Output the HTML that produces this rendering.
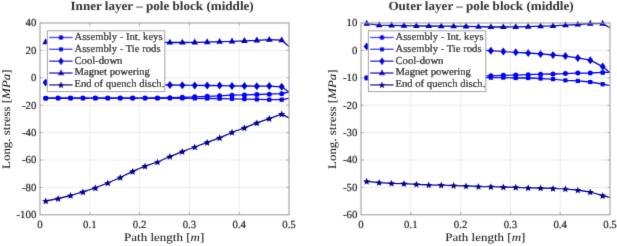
<!DOCTYPE html>
<html><head><meta charset="utf-8"><style>
html,body{margin:0;padding:0;background:#fff;width:617px;height:246px;overflow:hidden}
svg{display:block;font-family:"Liberation Serif", serif;will-change:transform;text-rendering:geometricPrecision}
</style></head><body>
<svg width="617" height="246" viewBox="0 0 617 246">
<defs><filter id="bl" x="0" y="0" width="617" height="246" filterUnits="userSpaceOnUse"><feConvolveMatrix order="3" kernelMatrix="0.01 0.08 0.01 0.08 0.64 0.08 0.01 0.08 0.01" edgeMode="duplicate"/></filter></defs>
<rect width="617" height="246" fill="#fff"/>
<g filter="url(#bl)">
<line x1="89.8" y1="23.0" x2="89.8" y2="214.8" stroke="#e6e6e6" stroke-width="0.8"/>
<line x1="139.6" y1="23.0" x2="139.6" y2="214.8" stroke="#e6e6e6" stroke-width="0.8"/>
<line x1="189.4" y1="23.0" x2="189.4" y2="214.8" stroke="#e6e6e6" stroke-width="0.8"/>
<line x1="239.2" y1="23.0" x2="239.2" y2="214.8" stroke="#e6e6e6" stroke-width="0.8"/>
<line x1="40.0" y1="50.4" x2="289.0" y2="50.4" stroke="#e6e6e6" stroke-width="0.8"/>
<line x1="40.0" y1="77.8" x2="289.0" y2="77.8" stroke="#e6e6e6" stroke-width="0.8"/>
<line x1="40.0" y1="105.2" x2="289.0" y2="105.2" stroke="#e6e6e6" stroke-width="0.8"/>
<line x1="40.0" y1="132.6" x2="289.0" y2="132.6" stroke="#e6e6e6" stroke-width="0.8"/>
<line x1="40.0" y1="160" x2="289.0" y2="160" stroke="#e6e6e6" stroke-width="0.8"/>
<line x1="40.0" y1="187.4" x2="289.0" y2="187.4" stroke="#e6e6e6" stroke-width="0.8"/>
<line x1="410.8" y1="23.0" x2="410.8" y2="214.8" stroke="#e6e6e6" stroke-width="0.8"/>
<line x1="460.6" y1="23.0" x2="460.6" y2="214.8" stroke="#e6e6e6" stroke-width="0.8"/>
<line x1="510.4" y1="23.0" x2="510.4" y2="214.8" stroke="#e6e6e6" stroke-width="0.8"/>
<line x1="560.2" y1="23.0" x2="560.2" y2="214.8" stroke="#e6e6e6" stroke-width="0.8"/>
<line x1="361.0" y1="50.4" x2="610.0" y2="50.4" stroke="#e6e6e6" stroke-width="0.8"/>
<line x1="361.0" y1="77.8" x2="610.0" y2="77.8" stroke="#e6e6e6" stroke-width="0.8"/>
<line x1="361.0" y1="105.2" x2="610.0" y2="105.2" stroke="#e6e6e6" stroke-width="0.8"/>
<line x1="361.0" y1="132.6" x2="610.0" y2="132.6" stroke="#e6e6e6" stroke-width="0.8"/>
<line x1="361.0" y1="160" x2="610.0" y2="160" stroke="#e6e6e6" stroke-width="0.8"/>
<line x1="361.0" y1="187.4" x2="610.0" y2="187.4" stroke="#e6e6e6" stroke-width="0.8"/>
<polyline points="45.7,98.2 58.12,98.1 70.54,98.1 82.96,98.1 95.38,98.1 107.8,98.1 120.22,98.1 132.64,98.1 145.06,98.1 157.48,98 169.9,97.7 182.32,97.3 194.74,96.8 207.16,96.3 219.58,95.8 232,95.2 244.42,94.9 256.84,94.5 269.26,94.2 281.68,93.7 289,92" fill="none" stroke="#0000ff" stroke-width="1.3" stroke-linejoin="round"/>
<circle cx="45.7" cy="98.2" r="2.5" fill="#0000ff"/>
<circle cx="58.12" cy="98.1" r="2.5" fill="#0000ff"/>
<circle cx="70.54" cy="98.1" r="2.5" fill="#0000ff"/>
<circle cx="82.96" cy="98.1" r="2.5" fill="#0000ff"/>
<circle cx="95.38" cy="98.1" r="2.5" fill="#0000ff"/>
<circle cx="107.8" cy="98.1" r="2.5" fill="#0000ff"/>
<circle cx="120.22" cy="98.1" r="2.5" fill="#0000ff"/>
<circle cx="132.64" cy="98.1" r="2.5" fill="#0000ff"/>
<circle cx="145.06" cy="98.1" r="2.5" fill="#0000ff"/>
<circle cx="157.48" cy="98" r="2.5" fill="#0000ff"/>
<circle cx="169.9" cy="97.7" r="2.5" fill="#0000ff"/>
<circle cx="182.32" cy="97.3" r="2.5" fill="#0000ff"/>
<circle cx="194.74" cy="96.8" r="2.5" fill="#0000ff"/>
<circle cx="207.16" cy="96.3" r="2.5" fill="#0000ff"/>
<circle cx="219.58" cy="95.8" r="2.5" fill="#0000ff"/>
<circle cx="232" cy="95.2" r="2.5" fill="#0000ff"/>
<circle cx="244.42" cy="94.9" r="2.5" fill="#0000ff"/>
<circle cx="256.84" cy="94.5" r="2.5" fill="#0000ff"/>
<circle cx="269.26" cy="94.2" r="2.5" fill="#0000ff"/>
<circle cx="281.68" cy="93.7" r="2.5" fill="#0000ff"/>
<polyline points="45.7,98.2 58.12,98.2 70.54,98.2 82.96,98.2 95.38,98.2 107.8,98.2 120.22,98.2 132.64,98.2 145.06,98.2 157.48,98.2 169.9,98.2 182.32,98.3 194.74,98.4 207.16,98.5 219.58,98.6 232,98.8 244.42,99.1 256.84,99.4 269.26,99.7 281.68,99.7 289,98.3" fill="none" stroke="#0000f2" stroke-width="1.3" stroke-linejoin="round"/>
<rect x="43.6" y="96.1" width="4.2" height="4.2" fill="#0000f2"/>
<rect x="56.02" y="96.1" width="4.2" height="4.2" fill="#0000f2"/>
<rect x="68.44" y="96.1" width="4.2" height="4.2" fill="#0000f2"/>
<rect x="80.86" y="96.1" width="4.2" height="4.2" fill="#0000f2"/>
<rect x="93.28" y="96.1" width="4.2" height="4.2" fill="#0000f2"/>
<rect x="105.7" y="96.1" width="4.2" height="4.2" fill="#0000f2"/>
<rect x="118.12" y="96.1" width="4.2" height="4.2" fill="#0000f2"/>
<rect x="130.54" y="96.1" width="4.2" height="4.2" fill="#0000f2"/>
<rect x="142.96" y="96.1" width="4.2" height="4.2" fill="#0000f2"/>
<rect x="155.38" y="96.1" width="4.2" height="4.2" fill="#0000f2"/>
<rect x="167.8" y="96.1" width="4.2" height="4.2" fill="#0000f2"/>
<rect x="180.22" y="96.2" width="4.2" height="4.2" fill="#0000f2"/>
<rect x="192.64" y="96.3" width="4.2" height="4.2" fill="#0000f2"/>
<rect x="205.06" y="96.4" width="4.2" height="4.2" fill="#0000f2"/>
<rect x="217.48" y="96.5" width="4.2" height="4.2" fill="#0000f2"/>
<rect x="229.9" y="96.7" width="4.2" height="4.2" fill="#0000f2"/>
<rect x="242.32" y="97" width="4.2" height="4.2" fill="#0000f2"/>
<rect x="254.74" y="97.3" width="4.2" height="4.2" fill="#0000f2"/>
<rect x="267.16" y="97.6" width="4.2" height="4.2" fill="#0000f2"/>
<rect x="279.58" y="97.6" width="4.2" height="4.2" fill="#0000f2"/>
<polyline points="45.7,82.6 58.12,83 70.54,83.3 82.96,83.6 95.38,83.9 107.8,84.1 120.22,84.3 132.64,84.5 145.06,84.7 157.48,84.9 169.9,85 182.32,85.2 194.74,85.4 207.16,85.5 219.58,85.6 232,85.9 244.42,86 256.84,86.2 269.26,86.1 281.68,86.8 289,92" fill="none" stroke="#0000dd" stroke-width="1.3" stroke-linejoin="round"/>
<path d="M45.7 78.6L48.7 82.6L45.7 86.6L42.7 82.6Z" fill="#0000dd"/>
<path d="M58.12 79L61.12 83L58.12 87L55.12 83Z" fill="#0000dd"/>
<path d="M70.54 79.3L73.54 83.3L70.54 87.3L67.54 83.3Z" fill="#0000dd"/>
<path d="M82.96 79.6L85.96 83.6L82.96 87.6L79.96 83.6Z" fill="#0000dd"/>
<path d="M95.38 79.9L98.38 83.9L95.38 87.9L92.38 83.9Z" fill="#0000dd"/>
<path d="M107.8 80.1L110.8 84.1L107.8 88.1L104.8 84.1Z" fill="#0000dd"/>
<path d="M120.22 80.3L123.22 84.3L120.22 88.3L117.22 84.3Z" fill="#0000dd"/>
<path d="M132.64 80.5L135.64 84.5L132.64 88.5L129.64 84.5Z" fill="#0000dd"/>
<path d="M145.06 80.7L148.06 84.7L145.06 88.7L142.06 84.7Z" fill="#0000dd"/>
<path d="M157.48 80.9L160.48 84.9L157.48 88.9L154.48 84.9Z" fill="#0000dd"/>
<path d="M169.9 81L172.9 85L169.9 89L166.9 85Z" fill="#0000dd"/>
<path d="M182.32 81.2L185.32 85.2L182.32 89.2L179.32 85.2Z" fill="#0000dd"/>
<path d="M194.74 81.4L197.74 85.4L194.74 89.4L191.74 85.4Z" fill="#0000dd"/>
<path d="M207.16 81.5L210.16 85.5L207.16 89.5L204.16 85.5Z" fill="#0000dd"/>
<path d="M219.58 81.6L222.58 85.6L219.58 89.6L216.58 85.6Z" fill="#0000dd"/>
<path d="M232 81.9L235 85.9L232 89.9L229 85.9Z" fill="#0000dd"/>
<path d="M244.42 82L247.42 86L244.42 90L241.42 86Z" fill="#0000dd"/>
<path d="M256.84 82.2L259.84 86.2L256.84 90.2L253.84 86.2Z" fill="#0000dd"/>
<path d="M269.26 82.1L272.26 86.1L269.26 90.1L266.26 86.1Z" fill="#0000dd"/>
<path d="M281.68 82.8L284.68 86.8L281.68 90.8L278.68 86.8Z" fill="#0000dd"/>
<polyline points="45.7,42.1 58.12,42.2 70.54,42.2 82.96,42.3 95.38,42.3 107.8,42.4 120.22,42.4 132.64,42.5 145.06,42.5 157.48,42.5 169.9,42.5 182.32,42.5 194.74,42.3 207.16,42.1 219.58,41.7 232,41.4 244.42,40.8 256.84,40.4 269.26,39.7 281.68,40.2 289,46.4" fill="none" stroke="#0000bb" stroke-width="1.3" stroke-linejoin="round"/>
<path d="M45.7 38.3L49 44.2L42.4 44.2Z" fill="#0000bb"/>
<path d="M58.12 38.4L61.42 44.3L54.82 44.3Z" fill="#0000bb"/>
<path d="M70.54 38.4L73.84 44.3L67.24 44.3Z" fill="#0000bb"/>
<path d="M82.96 38.5L86.26 44.4L79.66 44.4Z" fill="#0000bb"/>
<path d="M95.38 38.5L98.68 44.4L92.08 44.4Z" fill="#0000bb"/>
<path d="M107.8 38.6L111.1 44.5L104.5 44.5Z" fill="#0000bb"/>
<path d="M120.22 38.6L123.52 44.5L116.92 44.5Z" fill="#0000bb"/>
<path d="M132.64 38.7L135.94 44.6L129.34 44.6Z" fill="#0000bb"/>
<path d="M145.06 38.7L148.36 44.6L141.76 44.6Z" fill="#0000bb"/>
<path d="M157.48 38.7L160.78 44.6L154.18 44.6Z" fill="#0000bb"/>
<path d="M169.9 38.7L173.2 44.6L166.6 44.6Z" fill="#0000bb"/>
<path d="M182.32 38.7L185.62 44.6L179.02 44.6Z" fill="#0000bb"/>
<path d="M194.74 38.5L198.04 44.4L191.44 44.4Z" fill="#0000bb"/>
<path d="M207.16 38.3L210.46 44.2L203.86 44.2Z" fill="#0000bb"/>
<path d="M219.58 37.9L222.88 43.8L216.28 43.8Z" fill="#0000bb"/>
<path d="M232 37.6L235.3 43.5L228.7 43.5Z" fill="#0000bb"/>
<path d="M244.42 37L247.72 42.9L241.12 42.9Z" fill="#0000bb"/>
<path d="M256.84 36.6L260.14 42.5L253.54 42.5Z" fill="#0000bb"/>
<path d="M269.26 35.9L272.56 41.8L265.96 41.8Z" fill="#0000bb"/>
<path d="M281.68 36.4L284.98 42.3L278.38 42.3Z" fill="#0000bb"/>
<polyline points="45.7,201 58.12,198.6 70.54,195.5 82.96,191.9 95.38,187.9 107.8,183 120.22,177.5 132.64,171.4 145.06,166.2 157.48,162 169.9,156.6 182.32,151.6 194.74,147 207.16,142.4 219.58,137.8 232,132.3 244.42,127.8 256.84,122.9 269.26,118.6 281.68,114.1 289,117.8" fill="none" stroke="#00008f" stroke-width="1.3" stroke-linejoin="round"/>
<path d="M45.7 197.5L46.7 199.92L49.31 200.13L47.32 201.83L47.93 204.37L45.7 203L43.47 204.37L44.08 201.83L42.09 200.13L44.7 199.92Z" fill="#00008f"/>
<path d="M58.12 195.1L59.12 197.52L61.73 197.73L59.74 199.43L60.35 201.97L58.12 200.6L55.89 201.97L56.5 199.43L54.51 197.73L57.12 197.52Z" fill="#00008f"/>
<path d="M70.54 192L71.54 194.42L74.15 194.63L72.16 196.33L72.77 198.87L70.54 197.5L68.31 198.87L68.92 196.33L66.93 194.63L69.54 194.42Z" fill="#00008f"/>
<path d="M82.96 188.4L83.96 190.82L86.57 191.03L84.58 192.73L85.19 195.27L82.96 193.9L80.73 195.27L81.34 192.73L79.35 191.03L81.96 190.82Z" fill="#00008f"/>
<path d="M95.38 184.4L96.38 186.82L98.99 187.03L97 188.73L97.61 191.27L95.38 189.9L93.15 191.27L93.76 188.73L91.77 187.03L94.38 186.82Z" fill="#00008f"/>
<path d="M107.8 179.5L108.8 181.92L111.41 182.13L109.42 183.83L110.03 186.37L107.8 185L105.57 186.37L106.18 183.83L104.19 182.13L106.8 181.92Z" fill="#00008f"/>
<path d="M120.22 174L121.22 176.42L123.83 176.63L121.84 178.33L122.45 180.87L120.22 179.5L117.99 180.87L118.6 178.33L116.61 176.63L119.22 176.42Z" fill="#00008f"/>
<path d="M132.64 167.9L133.64 170.32L136.25 170.53L134.26 172.23L134.87 174.77L132.64 173.4L130.41 174.77L131.02 172.23L129.03 170.53L131.64 170.32Z" fill="#00008f"/>
<path d="M145.06 162.7L146.06 165.12L148.67 165.33L146.68 167.03L147.29 169.57L145.06 168.2L142.83 169.57L143.44 167.03L141.45 165.33L144.06 165.12Z" fill="#00008f"/>
<path d="M157.48 158.5L158.48 160.92L161.09 161.13L159.1 162.83L159.71 165.37L157.48 164L155.25 165.37L155.86 162.83L153.87 161.13L156.48 160.92Z" fill="#00008f"/>
<path d="M169.9 153.1L170.9 155.52L173.51 155.73L171.52 157.43L172.13 159.97L169.9 158.6L167.67 159.97L168.28 157.43L166.29 155.73L168.9 155.52Z" fill="#00008f"/>
<path d="M182.32 148.1L183.32 150.52L185.93 150.73L183.94 152.43L184.55 154.97L182.32 153.6L180.09 154.97L180.7 152.43L178.71 150.73L181.32 150.52Z" fill="#00008f"/>
<path d="M194.74 143.5L195.74 145.92L198.35 146.13L196.36 147.83L196.97 150.37L194.74 149L192.51 150.37L193.12 147.83L191.13 146.13L193.74 145.92Z" fill="#00008f"/>
<path d="M207.16 138.9L208.16 141.32L210.77 141.53L208.78 143.23L209.39 145.77L207.16 144.4L204.93 145.77L205.54 143.23L203.55 141.53L206.16 141.32Z" fill="#00008f"/>
<path d="M219.58 134.3L220.58 136.72L223.19 136.93L221.2 138.63L221.81 141.17L219.58 139.8L217.35 141.17L217.96 138.63L215.97 136.93L218.58 136.72Z" fill="#00008f"/>
<path d="M232 128.8L233 131.22L235.61 131.43L233.62 133.13L234.23 135.67L232 134.3L229.77 135.67L230.38 133.13L228.39 131.43L231 131.22Z" fill="#00008f"/>
<path d="M244.42 124.3L245.42 126.72L248.03 126.93L246.04 128.63L246.65 131.17L244.42 129.8L242.19 131.17L242.8 128.63L240.81 126.93L243.42 126.72Z" fill="#00008f"/>
<path d="M256.84 119.4L257.84 121.82L260.45 122.03L258.46 123.73L259.07 126.27L256.84 124.9L254.61 126.27L255.22 123.73L253.23 122.03L255.84 121.82Z" fill="#00008f"/>
<path d="M269.26 115.1L270.26 117.52L272.87 117.73L270.88 119.43L271.49 121.97L269.26 120.6L267.03 121.97L267.64 119.43L265.65 117.73L268.26 117.52Z" fill="#00008f"/>
<path d="M281.68 110.6L282.68 113.02L285.29 113.23L283.3 114.93L283.91 117.47L281.68 116.1L279.45 117.47L280.06 114.93L278.07 113.23L280.68 113.02Z" fill="#00008f"/>
<polyline points="366.7,77.8 379.12,77.6 391.54,77.4 403.96,77.2 416.38,77 428.8,76.8 441.22,76.6 453.64,76.4 466.06,76.2 478.48,76 490.9,75.8 503.32,75.3 515.74,75.1 528.16,74.7 540.58,74.2 553,74 565.42,73.6 577.84,73.1 590.26,73 602.68,72.4 610,72.3" fill="none" stroke="#0000ff" stroke-width="1.3" stroke-linejoin="round"/>
<circle cx="366.7" cy="77.8" r="2.5" fill="#0000ff"/>
<circle cx="379.12" cy="77.6" r="2.5" fill="#0000ff"/>
<circle cx="391.54" cy="77.4" r="2.5" fill="#0000ff"/>
<circle cx="403.96" cy="77.2" r="2.5" fill="#0000ff"/>
<circle cx="416.38" cy="77" r="2.5" fill="#0000ff"/>
<circle cx="428.8" cy="76.8" r="2.5" fill="#0000ff"/>
<circle cx="441.22" cy="76.6" r="2.5" fill="#0000ff"/>
<circle cx="453.64" cy="76.4" r="2.5" fill="#0000ff"/>
<circle cx="466.06" cy="76.2" r="2.5" fill="#0000ff"/>
<circle cx="478.48" cy="76" r="2.5" fill="#0000ff"/>
<circle cx="490.9" cy="75.8" r="2.5" fill="#0000ff"/>
<circle cx="503.32" cy="75.3" r="2.5" fill="#0000ff"/>
<circle cx="515.74" cy="75.1" r="2.5" fill="#0000ff"/>
<circle cx="528.16" cy="74.7" r="2.5" fill="#0000ff"/>
<circle cx="540.58" cy="74.2" r="2.5" fill="#0000ff"/>
<circle cx="553" cy="74" r="2.5" fill="#0000ff"/>
<circle cx="565.42" cy="73.6" r="2.5" fill="#0000ff"/>
<circle cx="577.84" cy="73.1" r="2.5" fill="#0000ff"/>
<circle cx="590.26" cy="73" r="2.5" fill="#0000ff"/>
<circle cx="602.68" cy="72.4" r="2.5" fill="#0000ff"/>
<polyline points="366.7,78.2 379.12,77.9 391.54,77.8 403.96,77.8 416.38,77.8 428.8,77.7 441.22,77.7 453.64,77.7 466.06,77.6 478.48,77.6 490.9,77.6 503.32,77.6 515.74,78 528.16,78 540.58,78.5 553,79.1 565.42,80.3 577.84,80.9 590.26,82 602.68,84.2 610,85.6" fill="none" stroke="#0000f2" stroke-width="1.3" stroke-linejoin="round"/>
<rect x="364.6" y="76.1" width="4.2" height="4.2" fill="#0000f2"/>
<rect x="377.02" y="75.8" width="4.2" height="4.2" fill="#0000f2"/>
<rect x="389.44" y="75.7" width="4.2" height="4.2" fill="#0000f2"/>
<rect x="401.86" y="75.7" width="4.2" height="4.2" fill="#0000f2"/>
<rect x="414.28" y="75.7" width="4.2" height="4.2" fill="#0000f2"/>
<rect x="426.7" y="75.6" width="4.2" height="4.2" fill="#0000f2"/>
<rect x="439.12" y="75.6" width="4.2" height="4.2" fill="#0000f2"/>
<rect x="451.54" y="75.6" width="4.2" height="4.2" fill="#0000f2"/>
<rect x="463.96" y="75.5" width="4.2" height="4.2" fill="#0000f2"/>
<rect x="476.38" y="75.5" width="4.2" height="4.2" fill="#0000f2"/>
<rect x="488.8" y="75.5" width="4.2" height="4.2" fill="#0000f2"/>
<rect x="501.22" y="75.5" width="4.2" height="4.2" fill="#0000f2"/>
<rect x="513.64" y="75.9" width="4.2" height="4.2" fill="#0000f2"/>
<rect x="526.06" y="75.9" width="4.2" height="4.2" fill="#0000f2"/>
<rect x="538.48" y="76.4" width="4.2" height="4.2" fill="#0000f2"/>
<rect x="550.9" y="77" width="4.2" height="4.2" fill="#0000f2"/>
<rect x="563.32" y="78.2" width="4.2" height="4.2" fill="#0000f2"/>
<rect x="575.74" y="78.8" width="4.2" height="4.2" fill="#0000f2"/>
<rect x="588.16" y="79.9" width="4.2" height="4.2" fill="#0000f2"/>
<rect x="600.58" y="82.1" width="4.2" height="4.2" fill="#0000f2"/>
<polyline points="366.7,46.6 379.12,47 391.54,47.4 403.96,47.8 416.38,48.2 428.8,48.6 441.22,49 453.64,49.4 466.06,49.8 478.48,50.2 490.9,50.7 503.32,51.6 515.74,52.3 528.16,53 540.58,53.9 553,55 565.42,56.1 577.84,57.9 590.26,60.2 602.68,66.6 610,72.8" fill="none" stroke="#0000dd" stroke-width="1.3" stroke-linejoin="round"/>
<path d="M366.7 42.6L369.7 46.6L366.7 50.6L363.7 46.6Z" fill="#0000dd"/>
<path d="M379.12 43L382.12 47L379.12 51L376.12 47Z" fill="#0000dd"/>
<path d="M391.54 43.4L394.54 47.4L391.54 51.4L388.54 47.4Z" fill="#0000dd"/>
<path d="M403.96 43.8L406.96 47.8L403.96 51.8L400.96 47.8Z" fill="#0000dd"/>
<path d="M416.38 44.2L419.38 48.2L416.38 52.2L413.38 48.2Z" fill="#0000dd"/>
<path d="M428.8 44.6L431.8 48.6L428.8 52.6L425.8 48.6Z" fill="#0000dd"/>
<path d="M441.22 45L444.22 49L441.22 53L438.22 49Z" fill="#0000dd"/>
<path d="M453.64 45.4L456.64 49.4L453.64 53.4L450.64 49.4Z" fill="#0000dd"/>
<path d="M466.06 45.8L469.06 49.8L466.06 53.8L463.06 49.8Z" fill="#0000dd"/>
<path d="M478.48 46.2L481.48 50.2L478.48 54.2L475.48 50.2Z" fill="#0000dd"/>
<path d="M490.9 46.7L493.9 50.7L490.9 54.7L487.9 50.7Z" fill="#0000dd"/>
<path d="M503.32 47.6L506.32 51.6L503.32 55.6L500.32 51.6Z" fill="#0000dd"/>
<path d="M515.74 48.3L518.74 52.3L515.74 56.3L512.74 52.3Z" fill="#0000dd"/>
<path d="M528.16 49L531.16 53L528.16 57L525.16 53Z" fill="#0000dd"/>
<path d="M540.58 49.9L543.58 53.9L540.58 57.9L537.58 53.9Z" fill="#0000dd"/>
<path d="M553 51L556 55L553 59L550 55Z" fill="#0000dd"/>
<path d="M565.42 52.1L568.42 56.1L565.42 60.1L562.42 56.1Z" fill="#0000dd"/>
<path d="M577.84 53.9L580.84 57.9L577.84 61.9L574.84 57.9Z" fill="#0000dd"/>
<path d="M590.26 56.2L593.26 60.2L590.26 64.2L587.26 60.2Z" fill="#0000dd"/>
<path d="M602.68 62.6L605.68 66.6L602.68 70.6L599.68 66.6Z" fill="#0000dd"/>
<polyline points="366.7,23.6 379.12,25.1 391.54,25.3 403.96,25.6 416.38,25.8 428.8,26 441.22,26.2 453.64,26.2 466.06,26.4 478.48,26.7 490.9,27 503.32,27 515.74,26.8 528.16,26.6 540.58,26.2 553,25.8 565.42,25.1 577.84,24.5 590.26,23.6 602.68,23.6 610,27.8" fill="none" stroke="#0000bb" stroke-width="1.3" stroke-linejoin="round"/>
<path d="M366.7 19.8L370 25.7L363.4 25.7Z" fill="#0000bb"/>
<path d="M379.12 21.3L382.42 27.2L375.82 27.2Z" fill="#0000bb"/>
<path d="M391.54 21.5L394.84 27.4L388.24 27.4Z" fill="#0000bb"/>
<path d="M403.96 21.8L407.26 27.7L400.66 27.7Z" fill="#0000bb"/>
<path d="M416.38 22L419.68 27.9L413.08 27.9Z" fill="#0000bb"/>
<path d="M428.8 22.2L432.1 28.1L425.5 28.1Z" fill="#0000bb"/>
<path d="M441.22 22.4L444.52 28.3L437.92 28.3Z" fill="#0000bb"/>
<path d="M453.64 22.4L456.94 28.3L450.34 28.3Z" fill="#0000bb"/>
<path d="M466.06 22.6L469.36 28.5L462.76 28.5Z" fill="#0000bb"/>
<path d="M478.48 22.9L481.78 28.8L475.18 28.8Z" fill="#0000bb"/>
<path d="M490.9 23.2L494.2 29.1L487.6 29.1Z" fill="#0000bb"/>
<path d="M503.32 23.2L506.62 29.1L500.02 29.1Z" fill="#0000bb"/>
<path d="M515.74 23L519.04 28.9L512.44 28.9Z" fill="#0000bb"/>
<path d="M528.16 22.8L531.46 28.7L524.86 28.7Z" fill="#0000bb"/>
<path d="M540.58 22.4L543.88 28.3L537.28 28.3Z" fill="#0000bb"/>
<path d="M553 22L556.3 27.9L549.7 27.9Z" fill="#0000bb"/>
<path d="M565.42 21.3L568.72 27.2L562.12 27.2Z" fill="#0000bb"/>
<path d="M577.84 20.7L581.14 26.6L574.54 26.6Z" fill="#0000bb"/>
<path d="M590.26 19.8L593.56 25.7L586.96 25.7Z" fill="#0000bb"/>
<path d="M602.68 19.8L605.98 25.7L599.38 25.7Z" fill="#0000bb"/>
<polyline points="366.7,181.3 379.12,182.6 391.54,183.3 403.96,183.7 416.38,184.3 428.8,185 441.22,185.2 453.64,185.6 466.06,186 478.48,186.5 490.9,186.7 503.32,187.1 515.74,187.3 528.16,187.8 540.58,188 553,188.4 565.42,188.8 577.84,190.1 590.26,192 602.68,195.7 610,197.4" fill="none" stroke="#00008f" stroke-width="1.3" stroke-linejoin="round"/>
<path d="M366.7 177.8L367.7 180.22L370.31 180.43L368.32 182.13L368.93 184.67L366.7 183.3L364.47 184.67L365.08 182.13L363.09 180.43L365.7 180.22Z" fill="#00008f"/>
<path d="M379.12 179.1L380.12 181.52L382.73 181.73L380.74 183.43L381.35 185.97L379.12 184.6L376.89 185.97L377.5 183.43L375.51 181.73L378.12 181.52Z" fill="#00008f"/>
<path d="M391.54 179.8L392.54 182.22L395.15 182.43L393.16 184.13L393.77 186.67L391.54 185.3L389.31 186.67L389.92 184.13L387.93 182.43L390.54 182.22Z" fill="#00008f"/>
<path d="M403.96 180.2L404.96 182.62L407.57 182.83L405.58 184.53L406.19 187.07L403.96 185.7L401.73 187.07L402.34 184.53L400.35 182.83L402.96 182.62Z" fill="#00008f"/>
<path d="M416.38 180.8L417.38 183.22L419.99 183.43L418 185.13L418.61 187.67L416.38 186.3L414.15 187.67L414.76 185.13L412.77 183.43L415.38 183.22Z" fill="#00008f"/>
<path d="M428.8 181.5L429.8 183.92L432.41 184.13L430.42 185.83L431.03 188.37L428.8 187L426.57 188.37L427.18 185.83L425.19 184.13L427.8 183.92Z" fill="#00008f"/>
<path d="M441.22 181.7L442.22 184.12L444.83 184.33L442.84 186.03L443.45 188.57L441.22 187.2L438.99 188.57L439.6 186.03L437.61 184.33L440.22 184.12Z" fill="#00008f"/>
<path d="M453.64 182.1L454.64 184.52L457.25 184.73L455.26 186.43L455.87 188.97L453.64 187.6L451.41 188.97L452.02 186.43L450.03 184.73L452.64 184.52Z" fill="#00008f"/>
<path d="M466.06 182.5L467.06 184.92L469.67 185.13L467.68 186.83L468.29 189.37L466.06 188L463.83 189.37L464.44 186.83L462.45 185.13L465.06 184.92Z" fill="#00008f"/>
<path d="M478.48 183L479.48 185.42L482.09 185.63L480.1 187.33L480.71 189.87L478.48 188.5L476.25 189.87L476.86 187.33L474.87 185.63L477.48 185.42Z" fill="#00008f"/>
<path d="M490.9 183.2L491.9 185.62L494.51 185.83L492.52 187.53L493.13 190.07L490.9 188.7L488.67 190.07L489.28 187.53L487.29 185.83L489.9 185.62Z" fill="#00008f"/>
<path d="M503.32 183.6L504.32 186.02L506.93 186.23L504.94 187.93L505.55 190.47L503.32 189.1L501.09 190.47L501.7 187.93L499.71 186.23L502.32 186.02Z" fill="#00008f"/>
<path d="M515.74 183.8L516.74 186.22L519.35 186.43L517.36 188.13L517.97 190.67L515.74 189.3L513.51 190.67L514.12 188.13L512.13 186.43L514.74 186.22Z" fill="#00008f"/>
<path d="M528.16 184.3L529.16 186.72L531.77 186.93L529.78 188.63L530.39 191.17L528.16 189.8L525.93 191.17L526.54 188.63L524.55 186.93L527.16 186.72Z" fill="#00008f"/>
<path d="M540.58 184.5L541.58 186.92L544.19 187.13L542.2 188.83L542.81 191.37L540.58 190L538.35 191.37L538.96 188.83L536.97 187.13L539.58 186.92Z" fill="#00008f"/>
<path d="M553 184.9L554 187.32L556.61 187.53L554.62 189.23L555.23 191.77L553 190.4L550.77 191.77L551.38 189.23L549.39 187.53L552 187.32Z" fill="#00008f"/>
<path d="M565.42 185.3L566.42 187.72L569.03 187.93L567.04 189.63L567.65 192.17L565.42 190.8L563.19 192.17L563.8 189.63L561.81 187.93L564.42 187.72Z" fill="#00008f"/>
<path d="M577.84 186.6L578.84 189.02L581.45 189.23L579.46 190.93L580.07 193.47L577.84 192.1L575.61 193.47L576.22 190.93L574.23 189.23L576.84 189.02Z" fill="#00008f"/>
<path d="M590.26 188.5L591.26 190.92L593.87 191.13L591.88 192.83L592.49 195.37L590.26 194L588.03 195.37L588.64 192.83L586.65 191.13L589.26 190.92Z" fill="#00008f"/>
<path d="M602.68 192.2L603.68 194.62L606.29 194.83L604.3 196.53L604.91 199.07L602.68 197.7L600.45 199.07L601.06 196.53L599.07 194.83L601.68 194.62Z" fill="#00008f"/>
<rect x="40.0" y="23.0" width="249" height="191.8" fill="none" stroke="#a0a0a0" stroke-width="1.1"/>
<line x1="89.8" y1="214.8" x2="89.8" y2="212.3" stroke="#a0a0a0" stroke-width="0.9"/>
<line x1="89.8" y1="23.0" x2="89.8" y2="25.5" stroke="#a0a0a0" stroke-width="0.9"/>
<line x1="139.6" y1="214.8" x2="139.6" y2="212.3" stroke="#a0a0a0" stroke-width="0.9"/>
<line x1="139.6" y1="23.0" x2="139.6" y2="25.5" stroke="#a0a0a0" stroke-width="0.9"/>
<line x1="189.4" y1="214.8" x2="189.4" y2="212.3" stroke="#a0a0a0" stroke-width="0.9"/>
<line x1="189.4" y1="23.0" x2="189.4" y2="25.5" stroke="#a0a0a0" stroke-width="0.9"/>
<line x1="239.2" y1="214.8" x2="239.2" y2="212.3" stroke="#a0a0a0" stroke-width="0.9"/>
<line x1="239.2" y1="23.0" x2="239.2" y2="25.5" stroke="#a0a0a0" stroke-width="0.9"/>
<line x1="40.0" y1="50.4" x2="42.5" y2="50.4" stroke="#a0a0a0" stroke-width="0.9"/>
<line x1="289.0" y1="50.4" x2="286.5" y2="50.4" stroke="#a0a0a0" stroke-width="0.9"/>
<line x1="40.0" y1="77.8" x2="42.5" y2="77.8" stroke="#a0a0a0" stroke-width="0.9"/>
<line x1="289.0" y1="77.8" x2="286.5" y2="77.8" stroke="#a0a0a0" stroke-width="0.9"/>
<line x1="40.0" y1="105.2" x2="42.5" y2="105.2" stroke="#a0a0a0" stroke-width="0.9"/>
<line x1="289.0" y1="105.2" x2="286.5" y2="105.2" stroke="#a0a0a0" stroke-width="0.9"/>
<line x1="40.0" y1="132.6" x2="42.5" y2="132.6" stroke="#a0a0a0" stroke-width="0.9"/>
<line x1="289.0" y1="132.6" x2="286.5" y2="132.6" stroke="#a0a0a0" stroke-width="0.9"/>
<line x1="40.0" y1="160" x2="42.5" y2="160" stroke="#a0a0a0" stroke-width="0.9"/>
<line x1="289.0" y1="160" x2="286.5" y2="160" stroke="#a0a0a0" stroke-width="0.9"/>
<line x1="40.0" y1="187.4" x2="42.5" y2="187.4" stroke="#a0a0a0" stroke-width="0.9"/>
<line x1="289.0" y1="187.4" x2="286.5" y2="187.4" stroke="#a0a0a0" stroke-width="0.9"/>
<rect x="361.0" y="23.0" width="249" height="191.8" fill="none" stroke="#a0a0a0" stroke-width="1.1"/>
<line x1="410.8" y1="214.8" x2="410.8" y2="212.3" stroke="#a0a0a0" stroke-width="0.9"/>
<line x1="410.8" y1="23.0" x2="410.8" y2="25.5" stroke="#a0a0a0" stroke-width="0.9"/>
<line x1="460.6" y1="214.8" x2="460.6" y2="212.3" stroke="#a0a0a0" stroke-width="0.9"/>
<line x1="460.6" y1="23.0" x2="460.6" y2="25.5" stroke="#a0a0a0" stroke-width="0.9"/>
<line x1="510.4" y1="214.8" x2="510.4" y2="212.3" stroke="#a0a0a0" stroke-width="0.9"/>
<line x1="510.4" y1="23.0" x2="510.4" y2="25.5" stroke="#a0a0a0" stroke-width="0.9"/>
<line x1="560.2" y1="214.8" x2="560.2" y2="212.3" stroke="#a0a0a0" stroke-width="0.9"/>
<line x1="560.2" y1="23.0" x2="560.2" y2="25.5" stroke="#a0a0a0" stroke-width="0.9"/>
<line x1="361.0" y1="50.4" x2="363.5" y2="50.4" stroke="#a0a0a0" stroke-width="0.9"/>
<line x1="610.0" y1="50.4" x2="607.5" y2="50.4" stroke="#a0a0a0" stroke-width="0.9"/>
<line x1="361.0" y1="77.8" x2="363.5" y2="77.8" stroke="#a0a0a0" stroke-width="0.9"/>
<line x1="610.0" y1="77.8" x2="607.5" y2="77.8" stroke="#a0a0a0" stroke-width="0.9"/>
<line x1="361.0" y1="105.2" x2="363.5" y2="105.2" stroke="#a0a0a0" stroke-width="0.9"/>
<line x1="610.0" y1="105.2" x2="607.5" y2="105.2" stroke="#a0a0a0" stroke-width="0.9"/>
<line x1="361.0" y1="132.6" x2="363.5" y2="132.6" stroke="#a0a0a0" stroke-width="0.9"/>
<line x1="610.0" y1="132.6" x2="607.5" y2="132.6" stroke="#a0a0a0" stroke-width="0.9"/>
<line x1="361.0" y1="160" x2="363.5" y2="160" stroke="#a0a0a0" stroke-width="0.9"/>
<line x1="610.0" y1="160" x2="607.5" y2="160" stroke="#a0a0a0" stroke-width="0.9"/>
<line x1="361.0" y1="187.4" x2="363.5" y2="187.4" stroke="#a0a0a0" stroke-width="0.9"/>
<line x1="610.0" y1="187.4" x2="607.5" y2="187.4" stroke="#a0a0a0" stroke-width="0.9"/>
<rect x="47.4" y="30.8" width="117.4" height="60.8" fill="#fff" stroke="#a0a0a0" stroke-width="1.0"/>
<line x1="49.2" y1="37.5" x2="72.6" y2="37.5" stroke="#0000ff" stroke-width="1.3"/>
<circle cx="61" cy="37.5" r="2.5" fill="#0000ff"/>
<text x="74.5" y="39.9" font-size="10.65" fill="#000" stroke="#000" stroke-width="0.2">Assembly - Int. keys</text>
<line x1="49.2" y1="49.35" x2="72.6" y2="49.35" stroke="#0000f2" stroke-width="1.3"/>
<rect x="58.9" y="47.25" width="4.2" height="4.2" fill="#0000f2"/>
<text x="74.5" y="51.75" font-size="10.65" fill="#000" stroke="#000" stroke-width="0.2">Assembly - Tie rods</text>
<line x1="49.2" y1="61.2" x2="72.6" y2="61.2" stroke="#0000dd" stroke-width="1.3"/>
<path d="M61 57.2L64 61.2L61 65.2L58 61.2Z" fill="#0000dd"/>
<text x="74.5" y="63.6" font-size="10.65" fill="#000" stroke="#000" stroke-width="0.2">Cool-down</text>
<line x1="49.2" y1="73.05" x2="72.6" y2="73.05" stroke="#0000bb" stroke-width="1.3"/>
<path d="M61 69.25L64.3 75.15L57.7 75.15Z" fill="#0000bb"/>
<text x="74.5" y="75.45" font-size="10.65" fill="#000" stroke="#000" stroke-width="0.2">Magnet powering</text>
<line x1="49.2" y1="84.9" x2="72.6" y2="84.9" stroke="#00008f" stroke-width="1.3"/>
<path d="M61 81.4L62 83.82L64.61 84.03L62.62 85.73L63.23 88.27L61 86.9L58.77 88.27L59.38 85.73L57.39 84.03L60 83.82Z" fill="#00008f"/>
<text x="74.5" y="87.3" font-size="10.65" fill="#000" stroke="#000" stroke-width="0.2">End of quench disch.</text>
<rect x="368.4" y="30.8" width="117.4" height="60.8" fill="#fff" stroke="#a0a0a0" stroke-width="1.0"/>
<line x1="370.2" y1="37.5" x2="393.6" y2="37.5" stroke="#0000ff" stroke-width="1.3"/>
<circle cx="382" cy="37.5" r="2.5" fill="#0000ff"/>
<text x="395.5" y="39.9" font-size="10.65" fill="#000" stroke="#000" stroke-width="0.2">Assembly - Int. keys</text>
<line x1="370.2" y1="49.35" x2="393.6" y2="49.35" stroke="#0000f2" stroke-width="1.3"/>
<rect x="379.9" y="47.25" width="4.2" height="4.2" fill="#0000f2"/>
<text x="395.5" y="51.75" font-size="10.65" fill="#000" stroke="#000" stroke-width="0.2">Assembly - Tie rods</text>
<line x1="370.2" y1="61.2" x2="393.6" y2="61.2" stroke="#0000dd" stroke-width="1.3"/>
<path d="M382 57.2L385 61.2L382 65.2L379 61.2Z" fill="#0000dd"/>
<text x="395.5" y="63.6" font-size="10.65" fill="#000" stroke="#000" stroke-width="0.2">Cool-down</text>
<line x1="370.2" y1="73.05" x2="393.6" y2="73.05" stroke="#0000bb" stroke-width="1.3"/>
<path d="M382 69.25L385.3 75.15L378.7 75.15Z" fill="#0000bb"/>
<text x="395.5" y="75.45" font-size="10.65" fill="#000" stroke="#000" stroke-width="0.2">Magnet powering</text>
<line x1="370.2" y1="84.9" x2="393.6" y2="84.9" stroke="#00008f" stroke-width="1.3"/>
<path d="M382 81.4L383 83.82L385.61 84.03L383.62 85.73L384.23 88.27L382 86.9L379.77 88.27L380.38 85.73L378.39 84.03L381 83.82Z" fill="#00008f"/>
<text x="395.5" y="87.3" font-size="10.65" fill="#000" stroke="#000" stroke-width="0.2">End of quench disch.</text>
<g fill="#141414" stroke="#141414" stroke-width="0.15" font-size="10.8"><text x="40" y="228.2" text-anchor="middle">0</text>
<text x="89.8" y="228.2" text-anchor="middle">0.1</text>
<text x="139.6" y="228.2" text-anchor="middle">0.2</text>
<text x="189.4" y="228.2" text-anchor="middle">0.3</text>
<text x="239.2" y="228.2" text-anchor="middle">0.4</text>
<text x="289" y="228.2" text-anchor="middle">0.5</text>
<text x="36.3" y="26.4" text-anchor="end">40</text>
<text x="36.3" y="53.8" text-anchor="end">20</text>
<text x="36.3" y="81.2" text-anchor="end">0</text>
<text x="36.3" y="108.6" text-anchor="end">-20</text>
<text x="36.3" y="136" text-anchor="end">-40</text>
<text x="36.3" y="163.4" text-anchor="end">-60</text>
<text x="36.3" y="190.8" text-anchor="end">-80</text>
<text x="36.3" y="218.2" text-anchor="end">-100</text><text x="361" y="228.2" text-anchor="middle">0</text>
<text x="410.8" y="228.2" text-anchor="middle">0.1</text>
<text x="460.6" y="228.2" text-anchor="middle">0.2</text>
<text x="510.4" y="228.2" text-anchor="middle">0.3</text>
<text x="560.2" y="228.2" text-anchor="middle">0.4</text>
<text x="610" y="228.2" text-anchor="middle">0.5</text>
<text x="357.3" y="26.4" text-anchor="end">10</text>
<text x="357.3" y="53.8" text-anchor="end">0</text>
<text x="357.3" y="81.2" text-anchor="end">-10</text>
<text x="357.3" y="108.6" text-anchor="end">-20</text>
<text x="357.3" y="136" text-anchor="end">-30</text>
<text x="357.3" y="163.4" text-anchor="end">-40</text>
<text x="357.3" y="190.8" text-anchor="end">-50</text>
<text x="357.3" y="218.2" text-anchor="end">-60</text></g>
<g fill="#0a0a0a"><text x="70.5" y="9.5" stroke-width="0" fill="#303030" font-weight="bold" font-size="12.6" textLength="183.2" lengthAdjust="spacingAndGlyphs">Inner layer – pole block (middle)</text>
<text x="388.4" y="9.5" stroke-width="0" fill="#303030" font-weight="bold" font-size="12.6" textLength="185.3" lengthAdjust="spacingAndGlyphs">Outer layer – pole block (middle)</text>
<text x="124.1" y="241.3" font-size="11.4" textLength="80.2" lengthAdjust="spacingAndGlyphs">Path length [<tspan font-style="italic">m</tspan>]</text>
<text x="445.2" y="241.3" font-size="11.4" textLength="80.2" lengthAdjust="spacingAndGlyphs">Path length [<tspan font-style="italic">m</tspan>]</text>
<text transform="translate(9.8,169.0) rotate(-90)" x="0" y="0" font-size="11.4" textLength="99.6" lengthAdjust="spacingAndGlyphs">Long. stress [<tspan font-style="italic">MPa</tspan>]</text>
<text transform="translate(335.8,169.0) rotate(-90)" x="0" y="0" font-size="11.4" textLength="99.6" lengthAdjust="spacingAndGlyphs">Long. stress [<tspan font-style="italic">MPa</tspan>]</text></g>
</g>
</svg>
</body></html>
